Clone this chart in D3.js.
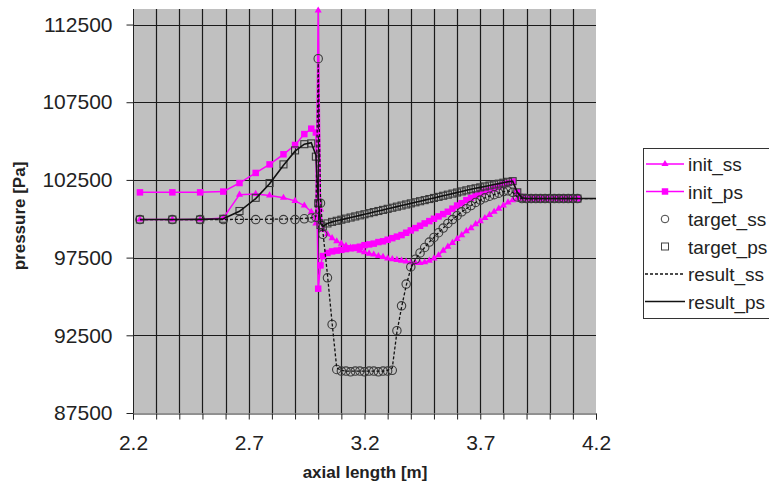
<!DOCTYPE html>
<html><head><meta charset="utf-8">
<script src="https://cdn.jsdelivr.net/npm/d3@7"></script>
<style>body{margin:0;background:#fff;} svg{display:block;font-family:"Liberation Sans",Arial,sans-serif;}</style>
</head><body><svg id="chart" width="769" height="485"></svg>
<script>
// ---------------- data ----------------
const seriesNames = ["init_ss", "init_ps", "target_ss", "target_ps", "result_ss", "result_ps"];
const xTickLabels = ["2.2", "2.7", "3.2", "3.7", "4.2"];
const yTickValues = [87500, 92500, 97500, 102500, 107500, 112500];

const axialPos = [
  2.23, 2.37, 2.49, 2.59, 2.66, 2.73, 2.79, 2.85, 2.90, 2.94, 2.97, 2.99, 3.00, 3.01, 3.02,
  3.04, 3.06, 3.08, 3.10, 3.12, 3.14, 3.16, 3.18, 3.20, 3.22,
  3.24, 3.26, 3.28, 3.30, 3.32, 3.34, 3.36, 3.38, 3.40, 3.42,
  3.44, 3.46, 3.48, 3.50, 3.52, 3.54, 3.56, 3.58, 3.60, 3.62,
  3.64, 3.66, 3.68, 3.70, 3.72, 3.74, 3.76, 3.78, 3.80, 3.82,
  3.84, 3.86, 3.88, 3.90, 3.92, 3.94, 3.96, 3.98, 4.00, 4.02,
  4.04, 4.06, 4.08, 4.10, 4.12, 4.20
];
const initSS = [
  99950, 99950, 99950, 100050, 101550, 101600, 101500, 101350, 101150, 100850, 100450, 99700, 113400, 100600, 99300,
  99000, 98750, 98550, 98400, 98250, 98150, 98050, 97950, 97850, 97750,
  97700, 97600, 97550, 97450, 97400, 97350, 97300, 97250, 97200, 97150,
  97150, 97200, 97300, 97450, 97650, 97950, 98200, 98450, 98700, 98950,
  99200, 99400, 99650, 99850, 100050, 100250, 100450, 100650, 100850, 101050,
  101200, 101300, 101300, 101320, 101300, 101310, 101300, 101290, 101300, 101310,
  101300, 101300, 101290, 101300, 101300, null
];
const initPS = [
  101700, 101700, 101700, 101750, 102300, 102950, 103500, 104150, 104750, 105450, 105800, 105550, 95500, 97000, 97600,
  97800, 97900, 97950, 98000, 98050, 98100, 98150, 98200, 98300, 98350,
  98400, 98500, 98550, 98650, 98750, 98850, 98950, 99100, 99250, 99400,
  99550, 99700, 99850, 100000, 100150, 100300, 100450, 100650, 100850, 101000,
  101200, 101350, 101500, 101650, 101750, 101850, 101950, 102100, 102200, 102300,
  102400, 101700, 101400, 101300, 101310, 101300, 101290, 101300, 101300, 101310,
  101300, 101290, 101300, 101300, 101300, null
];
const targetSS = [
  99950, 99950, 99950, 99950, 99950, 99950, 99950, 99950, 99950, 100000, 100050, 100100, 110300, 101000, 99000,
  96200, 93200, 90300, 90200, 90200, 90150, 90200, 90200, 90150, 90200,
  90200, 90150, 90200, 90200, 90250, 92800, 94400, 95800, 96900, 97400,
  97800, 98150, 98500, 98800, 99100, 99400, 99700, 99950, 100200, 100450,
  100650, 100850, 101050, 101200, 101350, 101450, 101550, 101650, 101750, 101800,
  101700, 101400, 101300, 101300, 101300, 101300, 101300, 101300, 101300, 101300,
  101300, 101300, 101300, 101300, 101300, null
];
const targetPS = [
  99950, 99950, 99950, 100000, 100500, 101350, 102300, 103500, 104400, 104800, 104850, 104000, 101000, 99600, 99500,
  99700, 99800, 99870, 99940, 100010, 100080, 100150, 100220, 100290, 100360,
  100430, 100500, 100570, 100640, 100710, 100780, 100850, 100920, 100990, 101060,
  101130, 101200, 101270, 101340, 101410, 101480, 101550, 101620, 101690, 101760,
  101830, 101900, 101960, 102020, 102080, 102140, 102200, 102260, 102320, 102380,
  102420, 101700, 101350, 101300, 101300, 101300, 101300, 101300, 101300, 101300,
  101300, 101300, 101300, 101300, 101300, null
];
const resultSS = [
  99950, 99950, 99950, 99950, 99960, 99960, 99970, 99980, 100000, 100020, 100060, 100150, 110000, 101200, 99200,
  96400, 93300, 90400, 90250, 90200, 90200, 90200, 90200, 90200, 90200,
  90200, 90200, 90200, 90250, 90400, 92700, 94300, 95700, 96800, 97400,
  97800, 98150, 98500, 98800, 99100, 99400, 99700, 99950, 100200, 100450,
  100650, 100850, 101050, 101200, 101350, 101450, 101550, 101650, 101750, 101800,
  101700, 101400, 101300, 101300, 101300, 101300, 101300, 101300, 101300, 101300,
  101300, 101300, 101300, 101300, 101300, 101300
];
const resultPS = [
  99950, 99950, 99960, 100000, 100480, 101300, 102250, 103450, 104350, 104800, 104900, 104100, 101200, 99700, 99500,
  99700, 99800, 99870, 99940, 100010, 100080, 100150, 100220, 100290, 100360,
  100430, 100500, 100570, 100640, 100710, 100780, 100850, 100920, 100990, 101060,
  101130, 101200, 101270, 101340, 101410, 101480, 101550, 101620, 101690, 101760,
  101830, 101900, 101960, 102020, 102080, 102140, 102200, 102260, 102320, 102380,
  102420, 101700, 101350, 101300, 101300, 101300, 101300, 101300, 101300, 101300,
  101300, 101300, 101300, 101300, 101300, 101300
];

// ---------------- drawing ----------------
const svg = d3.select("#chart");
const plot = {left: 133, right: 596, top: 9, bottom: 413};
const x = d3.scaleLinear().domain([2.2, 4.2]).range([plot.left, plot.right]);
const y = d3.scaleLinear().domain([87500, 113500]).range([plot.bottom, plot.top]);
const FONT = "Liberation Sans, Arial, sans-serif";

svg.append("rect").attr("x", plot.left).attr("y", plot.top)
  .attr("width", plot.right - plot.left).attr("height", plot.bottom - plot.top)
  .attr("fill", "#c0c0c0");

// gridlines
const gx = d3.range(23, 42).map(v => v / 10);
svg.append("g").selectAll("line").data(gx).join("line")
  .attr("x1", d => Math.round(x(d)) + 0.5).attr("x2", d => Math.round(x(d)) + 0.5)
  .attr("y1", plot.top).attr("y2", plot.bottom)
  .attr("stroke", "#1a1a1a").attr("stroke-width", 1.2);
svg.append("g").selectAll("line").data(yTickValues.slice(1)).join("line")
  .attr("x1", plot.left).attr("x2", plot.right)
  .attr("y1", d => Math.round(y(d)) + 0.5).attr("y2", d => Math.round(y(d)) + 0.5)
  .attr("stroke", "#1a1a1a").attr("stroke-width", 1.2);

// axes
const xAxis = d3.axisBottom(x)
  .tickValues(d3.range(22, 43).map(v => v / 10))
  .tickSize(6).tickPadding(16)
  .tickFormat(d => { const s = d.toFixed(1); return xTickLabels.includes(s) ? s : ""; });
const gxa = svg.append("g").attr("transform", `translate(0,${Math.round(plot.bottom) + 0.5})`).call(xAxis);
gxa.select(".domain").attr("stroke", "#222");
gxa.selectAll(".tick line").attr("stroke", "#222");
gxa.selectAll("text").attr("font-size", 21).attr("fill", "#222").attr("font-family", FONT);

const yAxis = d3.axisLeft(y).tickValues(yTickValues).tickSize(7).tickPadding(14).tickFormat(d => String(d));
const gya = svg.append("g").attr("transform", `translate(${Math.round(plot.left) + 0.5},0)`).call(yAxis);
gya.select(".domain").attr("d", `M-0,${plot.top}V${plot.bottom}`).attr("stroke", "#222");
gya.selectAll(".tick line").attr("stroke", "#222");
gya.selectAll("text").attr("font-size", 21).attr("fill", "#222").attr("font-family", FONT);

// titles
svg.append("text").attr("x", 365).attr("y", 478).attr("text-anchor", "middle").attr("font-family", FONT)
  .attr("font-size", 17).attr("font-weight", "bold").attr("fill", "#222").text("axial length [m]");
svg.append("text").attr("transform", "translate(25,216) rotate(-90)").attr("text-anchor", "middle").attr("font-family", FONT)
  .attr("font-size", 17).attr("font-weight", "bold").attr("fill", "#222").text("pressure [Pa]");

// series
const layer = svg.append("g");
function pts(vals) { return axialPos.map((a, i) => ({a, v: vals[i]})).filter(d => d.v != null); }
const line = d3.line().x(d => x(d.a)).y(d => y(d.v));
const magenta = "#ff00ff";
const tri = d3.symbol().type(d3.symbolTriangle).size(22);
const sq = d3.symbol().type(d3.symbolSquare).size(42);

// init_ss
layer.append("path").attr("d", line(pts(initSS))).attr("fill", "none").attr("stroke", magenta).attr("stroke-width", 1.5);
layer.append("g").selectAll("path").data(pts(initSS)).join("path")
  .attr("transform", d => `translate(${x(d.a)},${y(d.v)})`).attr("d", tri).attr("fill", magenta);
// init_ps
layer.append("path").attr("d", line(pts(initPS))).attr("fill", "none").attr("stroke", magenta).attr("stroke-width", 1.5);
layer.append("g").selectAll("path").data(pts(initPS)).join("path")
  .attr("transform", d => `translate(${x(d.a)},${y(d.v)})`).attr("d", sq).attr("fill", magenta);
// target_ss
layer.append("g").selectAll("circle").data(pts(targetSS)).join("circle")
  .attr("cx", d => x(d.a)).attr("cy", d => y(d.v)).attr("r", 4.2)
  .attr("fill", "none").attr("stroke", "#3a3a3a").attr("stroke-width", 1.1);
// target_ps
layer.append("g").selectAll("rect").data(pts(targetPS)).join("rect")
  .attr("x", d => x(d.a) - 3.5).attr("y", d => y(d.v) - 3.5).attr("width", 7).attr("height", 7)
  .attr("fill", "none").attr("stroke", "#3a3a3a").attr("stroke-width", 1.1);
// result_ss
layer.append("path").attr("d", line(pts(resultSS))).attr("fill", "none").attr("stroke", "#111")
  .attr("stroke-width", 1.3).attr("stroke-dasharray", "3,2");
// result_ps
layer.append("path").attr("d", line(pts(resultPS))).attr("fill", "none").attr("stroke", "#111").attr("stroke-width", 1.6);

// legend
const lg = svg.append("g");
lg.append("rect").attr("x", 643.5).attr("y", 148.5).attr("width", 140).attr("height", 170)
  .attr("fill", "#fff").attr("stroke", "#333");
const rowY = d => 164 + d * 27.5;
seriesNames.forEach((name, i) => {
  const cy = rowY(i);
  const g = lg.append("g");
  if (i === 0 || i === 1) {
    g.append("line").attr("x1", 646).attr("x2", 684).attr("y1", cy).attr("y2", cy).attr("stroke", magenta).attr("stroke-width", 1.5);
    g.append("path").attr("transform", `translate(665,${cy})`).attr("d", i === 0 ? tri : sq).attr("fill", magenta);
  } else if (i === 2) {
    g.append("circle").attr("cx", 665).attr("cy", cy).attr("r", 3.8).attr("fill", "none").attr("stroke", "#444");
  } else if (i === 3) {
    g.append("rect").attr("x", 661.5).attr("y", cy - 3.5).attr("width", 7).attr("height", 7).attr("fill", "none").attr("stroke", "#444");
  } else if (i === 4) {
    g.append("line").attr("x1", 645).attr("x2", 685).attr("y1", cy).attr("y2", cy).attr("stroke", "#111").attr("stroke-dasharray", "3,2").attr("stroke-width", 1.3);
  } else {
    g.append("line").attr("x1", 645).attr("x2", 685).attr("y1", cy).attr("y2", cy).attr("stroke", "#111").attr("stroke-width", 1.6);
  }
  g.append("text").attr("x", 688).attr("y", cy + 7).attr("font-size", 19).attr("fill", "#222").attr("font-family", FONT).text(name);
});
</script>
</body></html>
